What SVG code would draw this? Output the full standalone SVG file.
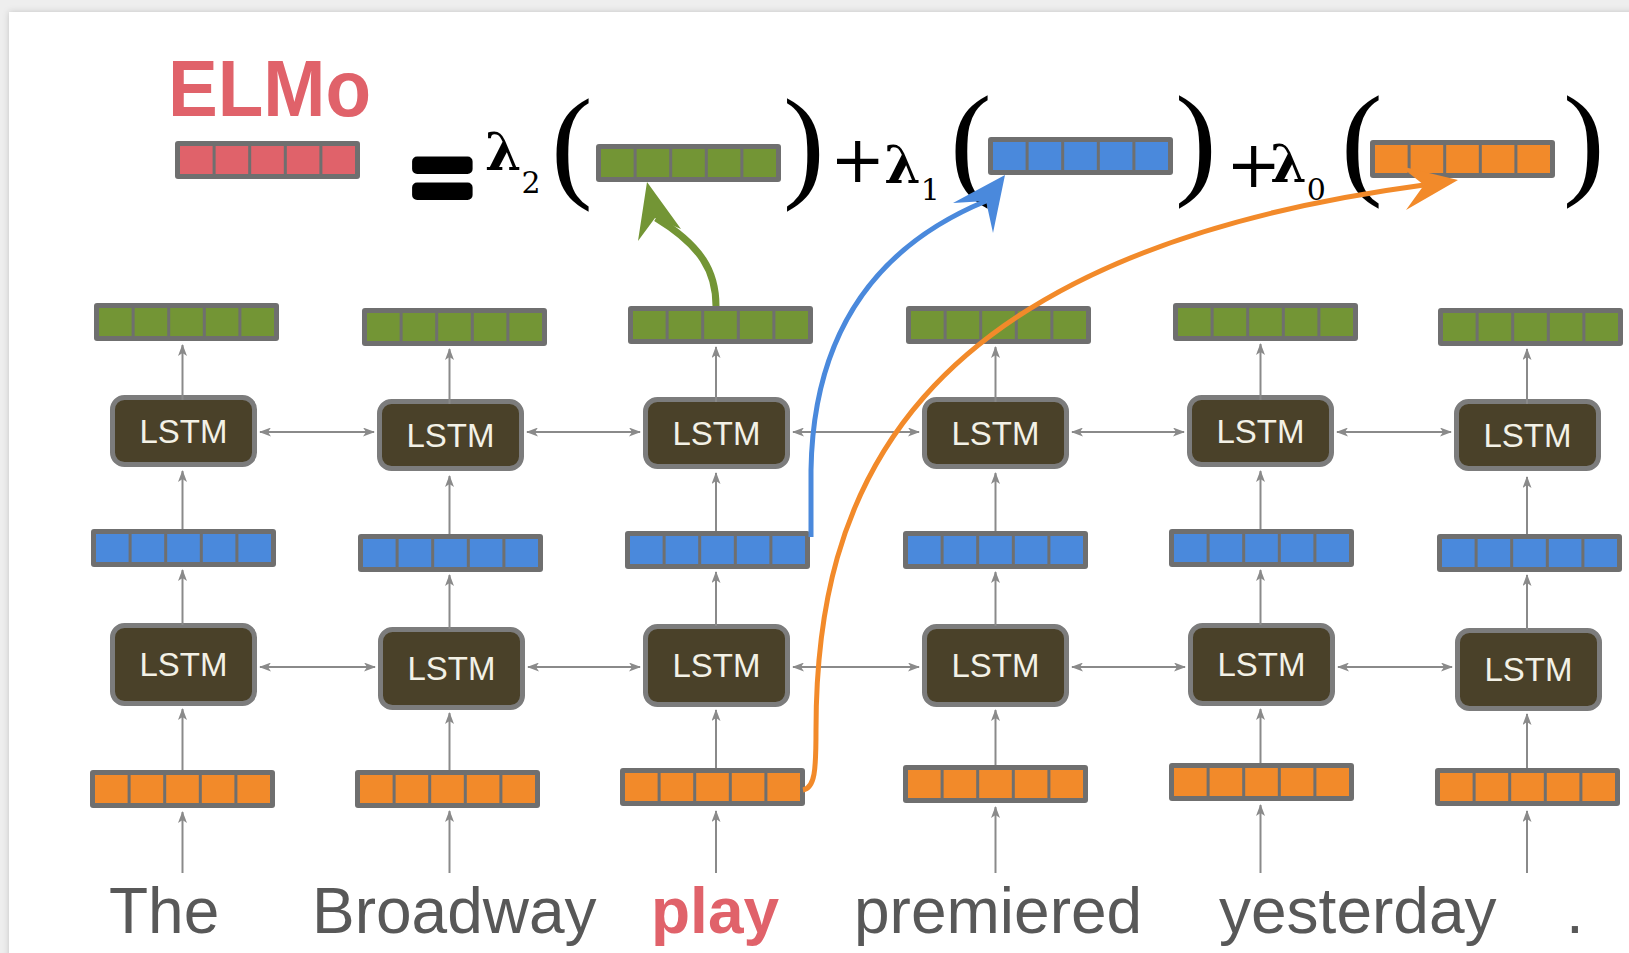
<svg xmlns="http://www.w3.org/2000/svg" xmlns:xlink="http://www.w3.org/1999/xlink" width="1629" height="953" viewBox="0 0 1629 953">
  <style>
    .frame { fill: #6f6f6f; }
    .lstm rect { fill: #4a4129; stroke: #7c7c7c; stroke-width: 5; }
    .lstm text { font-family: "Liberation Sans", Arial, sans-serif; font-size: 33px; fill: #f3f1e6; text-anchor: middle; }
    .word { font-family: "Liberation Sans", Arial, sans-serif; font-size: 64px; fill: #585858; }
    .hot { fill: #e0626a; font-weight: bold; }
    .math { font-family: "DejaVu Serif", "Liberation Serif", serif; fill: #000; }
    .lam { font-size: 52px; font-weight: bold; }
    .sub { font-size: 30px; font-weight: normal; }
    .plus { font-size: 66px; font-weight: normal; }
    .paren { font-family: "Liberation Serif", "Times New Roman", serif; font-size: 125px; fill: #000; }
    .flow { stroke: #8a8a8a; stroke-width: 2; fill: none; marker-end: url(#tip); }
    .both { marker-start: url(#tip); }
  </style>
  <defs>
    <!-- a five-cell vector; the cells take their colour from the <use> -->
    <g id="bar">
      <rect class="frame" width="185" height="38" rx="3"/>
      <rect x="5" y="5" width="32.6" height="28"/>
      <rect x="40.6" y="5" width="32.6" height="28"/>
      <rect x="76.2" y="5" width="32.6" height="28"/>
      <rect x="111.8" y="5" width="32.6" height="28"/>
      <rect x="147.4" y="5" width="32.6" height="28"/>
    </g>
    <marker id="tip" viewBox="0 0 12 9" refX="11" refY="4.5" markerWidth="12" markerHeight="9" markerUnits="userSpaceOnUse" orient="auto-start-reverse">
      <path d="M0,0 L12,4.5 L0,9 L3,4.5 Z" fill="#8a8a8a"/>
    </marker>
    <filter id="card-shadow" x="-5%" y="-5%" width="110%" height="110%">
      <feDropShadow dx="0" dy="0" stdDeviation="3" flood-color="#000" flood-opacity="0.18"/>
    </filter>
  </defs>

  <!-- page -->
  <rect width="1629" height="953" fill="#eeeeee"/>
  <rect x="9" y="12" width="1660" height="980" fill="#ffffff" filter="url(#card-shadow)"/>

  <!-- ELMo = weighted sum of layer vectors -->
  <g id="elmo">
    <text x="168" y="116" font-family="Liberation Sans, Arial, sans-serif" font-weight="bold" font-size="80" fill="#e0626a" textLength="203" lengthAdjust="spacingAndGlyphs">ELMo</text>
    <use href="#bar" x="175" y="141" fill="#e0626a"/>
  </g>

  <g id="equation">
    <text x="412" y="212" font-family="Liberation Sans, Arial, sans-serif" font-size="104" stroke="#000" stroke-width="10" stroke-linejoin="round">=</text>
    <text class="math" x="485" y="170"><tspan class="lam">λ</tspan><tspan class="sub" dx="0" dy="23">2</tspan></text>
    <text class="paren" x="551" y="185">(</text>
    <use href="#bar" x="596" y="144" fill="#739535"/>
    <text class="paren" x="783" y="185">)</text>

    <text class="math" x="830" y="182"><tspan class="plus">+</tspan><tspan class="lam" dx="-1" dy="1">λ</tspan><tspan class="sub" dx="0" dy="17">1</tspan></text>
    <text class="paren" x="950" y="182">(</text>
    <use href="#bar" x="988" y="137" fill="#4a89dc"/>
    <text class="paren" x="1175" y="182">)</text>

    <text class="math" x="1226" y="187"><tspan class="plus">+</tspan><tspan class="lam" dx="-11" dy="-5">λ</tspan><tspan class="sub" dx="0" dy="18">0</tspan></text>
    <text class="paren" x="1341" y="182">(</text>
    <use href="#bar" x="1370" y="140" fill="#f28a2a"/>
    <text class="paren" x="1563" y="182">)</text>
  </g>

  <!-- top layer vectors -->
  <g id="top-1"><use href="#bar" x="94" y="303" fill="#739535"/></g>
  <g id="top-2"><use href="#bar" x="362" y="308" fill="#739535"/></g>
  <g id="top-3"><use href="#bar" x="628" y="306" fill="#739535"/></g>
  <g id="top-4"><use href="#bar" x="906" y="306" fill="#739535"/></g>
  <g id="top-5"><use href="#bar" x="1173" y="303" fill="#739535"/></g>
  <g id="top-6"><use href="#bar" x="1438" y="308" fill="#739535"/></g>

  <!-- upper LSTM layer -->
  <g id="lstm2-1" class="lstm"><rect x="112.5" y="397.5" width="142" height="67" rx="12"/><text x="183.5" y="443">LSTM</text></g>
  <g id="lstm2-2" class="lstm"><rect x="379.5" y="401.5" width="142" height="67" rx="12"/><text x="450.5" y="447">LSTM</text></g>
  <g id="lstm2-3" class="lstm"><rect x="645.5" y="399.5" width="142" height="67" rx="12"/><text x="716.5" y="445">LSTM</text></g>
  <g id="lstm2-4" class="lstm"><rect x="924.5" y="399.5" width="142" height="67" rx="12"/><text x="995.5" y="445">LSTM</text></g>
  <g id="lstm2-5" class="lstm"><rect x="1189.5" y="397.5" width="142" height="67" rx="12"/><text x="1260.5" y="443">LSTM</text></g>
  <g id="lstm2-6" class="lstm"><rect x="1456.5" y="401.5" width="142" height="67" rx="12"/><text x="1527.5" y="447">LSTM</text></g>

  <!-- middle layer vectors -->
  <g id="mid-1"><use href="#bar" x="91" y="529" fill="#4a89dc"/></g>
  <g id="mid-2"><use href="#bar" x="358" y="534" fill="#4a89dc"/></g>
  <g id="mid-3"><use href="#bar" x="625" y="531" fill="#4a89dc"/></g>
  <g id="mid-4"><use href="#bar" x="903" y="531" fill="#4a89dc"/></g>
  <g id="mid-5"><use href="#bar" x="1169" y="529" fill="#4a89dc"/></g>
  <g id="mid-6"><use href="#bar" x="1437" y="534" fill="#4a89dc"/></g>

  <!-- lower LSTM layer -->
  <g id="lstm1-1" class="lstm"><rect x="112.5" y="625.5" width="142" height="78" rx="12"/><text x="183.5" y="676">LSTM</text></g>
  <g id="lstm1-2" class="lstm"><rect x="380.5" y="629.5" width="142" height="78" rx="12"/><text x="451.5" y="680">LSTM</text></g>
  <g id="lstm1-3" class="lstm"><rect x="645.5" y="626.5" width="142" height="78" rx="12"/><text x="716.5" y="677">LSTM</text></g>
  <g id="lstm1-4" class="lstm"><rect x="924.5" y="626.5" width="142" height="78" rx="12"/><text x="995.5" y="677">LSTM</text></g>
  <g id="lstm1-5" class="lstm"><rect x="1190.5" y="625.5" width="142" height="78" rx="12"/><text x="1261.5" y="676">LSTM</text></g>
  <g id="lstm1-6" class="lstm"><rect x="1457.5" y="630.5" width="142" height="78" rx="12"/><text x="1528.5" y="681">LSTM</text></g>

  <!-- token embeddings -->
  <g id="emb-1"><use href="#bar" x="90" y="770" fill="#f28a2a"/></g>
  <g id="emb-2"><use href="#bar" x="355" y="770" fill="#f28a2a"/></g>
  <g id="emb-3"><use href="#bar" x="620" y="768" fill="#f28a2a"/></g>
  <g id="emb-4"><use href="#bar" x="903" y="765" fill="#f28a2a"/></g>
  <g id="emb-5"><use href="#bar" x="1169" y="763" fill="#f28a2a"/></g>
  <g id="emb-6"><use href="#bar" x="1435" y="768" fill="#f28a2a"/></g>

  <!-- input tokens -->
  <g id="tok-1"><text class="word" x="109" y="933">The</text></g>
  <g id="tok-2"><text class="word" x="312" y="933">Broadway</text></g>
  <g id="tok-3"><text class="word hot" x="651" y="933">play</text></g>
  <g id="tok-4"><text class="word" x="854" y="933">premiered</text></g>
  <g id="tok-5"><text class="word" x="1219" y="933">yesterday</text></g>
  <g id="tok-6"><text class="word" x="1566" y="933">.</text></g>

  <g id="connectors">
    <!-- tokens to embeddings -->
    <path class="flow" d="M182.5 873 V812"/>
    <path class="flow" d="M449.5 873 V811"/>
    <path class="flow" d="M716 873 V811"/>
    <path class="flow" d="M995.5 873 V807"/>
    <path class="flow" d="M1260.5 873 V805"/>
    <path class="flow" d="M1527 873 V811"/>
    <!-- embeddings to lower LSTMs -->
    <path class="flow" d="M182.5 770 V709"/>
    <path class="flow" d="M449.5 770 V713"/>
    <path class="flow" d="M716 768 V710"/>
    <path class="flow" d="M995.5 765 V710"/>
    <path class="flow" d="M1260.5 763 V709"/>
    <path class="flow" d="M1527 768 V714"/>
    <!-- lower LSTMs to middle vectors -->
    <path class="flow" d="M182.5 625 V570"/>
    <path class="flow" d="M449.5 629 V575"/>
    <path class="flow" d="M716 626 V572"/>
    <path class="flow" d="M995.5 626 V572"/>
    <path class="flow" d="M1260.5 625 V570"/>
    <path class="flow" d="M1527 630 V575"/>
    <!-- middle vectors to upper LSTMs -->
    <path class="flow" d="M182.5 529 V471"/>
    <path class="flow" d="M449.5 534 V476"/>
    <path class="flow" d="M716 531 V473"/>
    <path class="flow" d="M995.5 531 V473"/>
    <path class="flow" d="M1260.5 529 V471"/>
    <path class="flow" d="M1527 534 V477"/>
    <!-- upper LSTMs to top vectors -->
    <path class="flow" d="M182.5 400 V345"/>
    <path class="flow" d="M449.5 404 V349"/>
    <path class="flow" d="M716 402 V347"/>
    <path class="flow" d="M995.5 402 V347"/>
    <path class="flow" d="M1260.5 400 V344"/>
    <path class="flow" d="M1527 404 V349"/>
    <!-- bidirectional links, upper layer -->
    <path class="flow both" d="M260 432 H374"/>
    <path class="flow both" d="M527 432 H640"/>
    <path class="flow both" d="M793 432 H919"/>
    <path class="flow both" d="M1072 432 H1184"/>
    <path class="flow both" d="M1337 432 H1451"/>
    <!-- bidirectional links, lower layer -->
    <path class="flow both" d="M260 667 H375"/>
    <path class="flow both" d="M528 667 H640"/>
    <path class="flow both" d="M793 667 H919"/>
    <path class="flow both" d="M1072 667 H1185"/>
    <path class="flow both" d="M1338 667 H1452"/>

    <!-- layer outputs of "play" feeding the weighted sum -->
    <path d="M716 306 C716 272 702 246 656 218" fill="none" stroke="#739535" stroke-width="7"/>
    <polygon points="647,182 681,229 655,218 638,241" fill="#739535"/>

    <path d="M811 537 V470 C813 350 862 252 986 201" fill="none" stroke="#4a89dc" stroke-width="5"/>
    <polygon points="1005,175 993,233 986,201 953,203" fill="#4a89dc"/>

    <path d="M803 790 C815 788 816 770 816 730 C816 500 900 255 1424 185" fill="none" stroke="#f28a2a" stroke-width="5"/>
    <polygon points="1458,180 1406,210 1424,185 1400,166" fill="#f28a2a"/>
  </g>
</svg>
